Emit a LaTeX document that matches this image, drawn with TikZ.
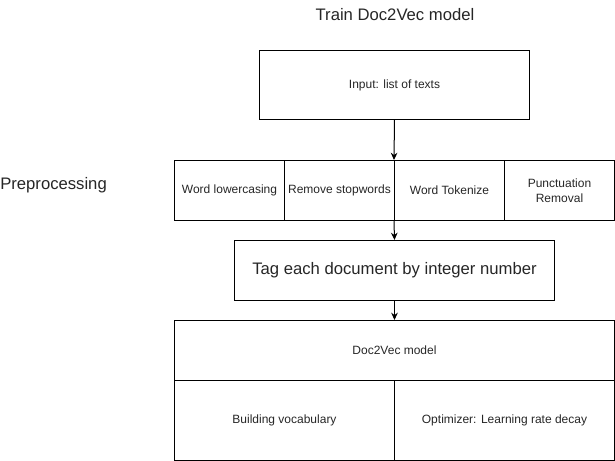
\documentclass[tikz,border=0pt]{standalone}
\usepackage{fontspec}
\setmainfont{Liberation Sans}
\usetikzlibrary{arrows.meta}
\begin{document}
\begin{tikzpicture}[x=0.75pt,y=-0.75pt,
  cell/.style={draw, rectangle, line width=0.75pt, inner sep=0pt, align=center, font=\fontsize{9pt}{11pt}\selectfont, text=black!85},
  bigtext/.style={font=\fontsize{12.5pt}{14.5pt}\selectfont, text=black!85},
  arr/.style={line width=0.75pt, -{Stealth[length=5.5pt,width=5pt]}}]
\useasboundingbox (0,0) rectangle (615,461);
% title
\node[bigtext] (title) at (395,15) {Train Doc2Vec model};
\node[bigtext, anchor=west, inner sep=0pt] (prep) at (0,185.5) {Preprocessing};
% input
\node[cell, minimum width=202.5pt, minimum height=51.75pt] (in) at (394.5,85) {Input: list of texts};
% preprocessing row
\node[cell, minimum width=82.5pt, minimum height=45pt] (p1) at (229.5,190.5) {Word lowercasing};
\node[cell, minimum width=82.5pt, minimum height=45pt] (p2) at (339.5,190.5) {Remove stopwords};
\node[cell, minimum width=82.5pt, minimum height=45pt] (p3) at (449.5,190.5) {Word Tokenize};
\node[cell, minimum width=82.5pt, minimum height=45pt] (p4) at (559.5,190.5) {Punctuation\\Removal};
% tag
\node[cell, bigtext, minimum width=240pt, minimum height=45pt] (tag) at (394.5,270.5) {Tag each document by integer number};
% model
\node[cell, minimum width=330pt, minimum height=45pt] (model) at (394.5,350.5) {Doc2Vec model};
\node[cell, minimum width=165pt, minimum height=60pt] (vocab) at (284.5,420.5) {Building vocabulary};
\node[cell, minimum width=165pt, minimum height=60pt] (opt) at (504.5,420.5) {Optimizer: Learning rate decay};
% arrows
\draw[arr] (in.south) -- (p3.north west);
\draw[arr] (p3.south west) -- (tag.north);
\draw[arr] (tag.south) -- (model.north);
\end{tikzpicture}
\end{document}
